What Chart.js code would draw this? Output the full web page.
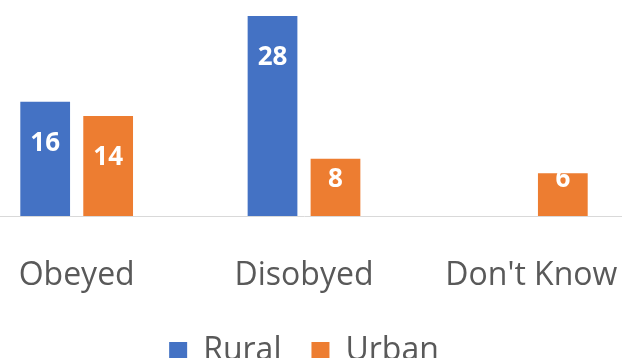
<!DOCTYPE html>
<html>
<head>
<meta charset="utf-8">
<script src="https://cdn.jsdelivr.net/npm/chart.js@4/dist/chart.umd.min.js"></script>
<style>
  html, body { margin: 0; padding: 0; width: 622px; height: 358px; overflow: hidden; background: #ffffff; }
  #c { position: absolute; left: -37px; top: 0; }
</style>
</head>
<body>
<canvas id="c" width="682" height="377" style="width:682px;height:377px"></canvas>
<script>
const categories = ["Obeyed", "Disobyed", "Don't Know"];
const ruralValues = [16, 28, null];
const urbanValues = [14, 8, 6];
const seriesNames = ["Rural", "Urban"];

const valueLabels = {
  id: 'valueLabels',
  afterDatasetsDraw(chart) {
    const ctx = chart.ctx;
    ctx.save();
    ctx.font = 'bold 26px "Open Sans"';
    ctx.fillStyle = '#ffffff';
    ctx.textAlign = 'center';
    ctx.textBaseline = 'middle';
    chart.data.datasets.forEach((ds, di) => {
      const meta = chart.getDatasetMeta(di);
      meta.data.forEach((el, i) => {
        const v = ds.data[i];
        if (v === null || v === undefined) return;
        const y = Math.min(el.y + 42, el.base - 36);
        ctx.fillText(String(v), el.x, y);
      });
    });
    ctx.restore();
  }
};

new Chart(document.getElementById('c'), {
  type: 'bar',
  data: {
    labels: categories,
    datasets: [
      { label: seriesNames[0], data: ruralValues, backgroundColor: '#4472C4', categoryPercentage: 0.554, barPercentage: 0.79 },
      { label: seriesNames[1], data: urbanValues, backgroundColor: '#ED7D31', categoryPercentage: 0.554, barPercentage: 0.79 }
    ]
  },
  options: {
    responsive: false,
    devicePixelRatio: 1,
    animation: false,
    layout: { padding: { top: 16, left: 0, right: 0, bottom: 0 } },
    plugins: {
      legend: {
        position: 'bottom',
        labels: {
          boxWidth: 18,
          boxHeight: 18,
          padding: 30,
          color: '#595959',
          font: { family: '"Open Sans"', size: 32 }
        }
      },
      tooltip: { enabled: false }
    },
    scales: {
      x: {
        grid: { display: false, drawTicks: false },
        border: { display: true, color: '#d9d9d9', width: 1 },
        ticks: { color: '#595959', font: { family: '"Open Sans"', size: 32 }, padding: 40.8, maxRotation: 0, autoSkip: false },
        afterFit(scale) { scale.paddingLeft = 0; scale.paddingRight = 0; scale.height = 89; }
      },
      y: {
        display: false,
        min: 0,
        max: 28
      }
    }
  },
  plugins: [valueLabels]
});
</script>
</body>
</html>
